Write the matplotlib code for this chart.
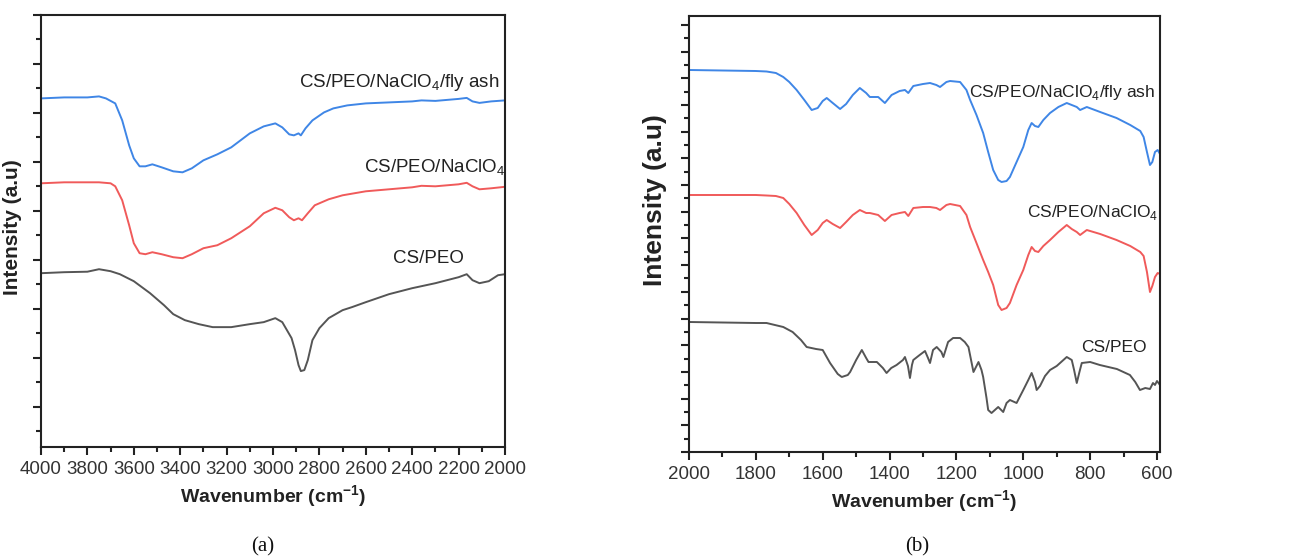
import numpy as np
import matplotlib
matplotlib.use('Agg')
import matplotlib.pyplot as plt
from matplotlib.ticker import MultipleLocator, FixedLocator

plt.rcParams['font.family'] = ['Liberation Sans', 'DejaVu Sans']
plt.rcParams['mathtext.fontset'] = 'custom'
plt.rcParams['mathtext.rm'] = 'Liberation Sans'
plt.rcParams['mathtext.bf'] = 'Liberation Sans:bold'

# ---- panel (a): 4000-2000 cm-1, intensity in arbitrary units ----
a_wn_top = [4000, 3900, 3800, 3750, 3720, 3680, 3650, 3620, 3600, 3575, 3550, 3520, 3480, 3430,
            3390, 3350, 3300, 3240, 3180, 3100, 3040, 2990, 2960, 2930, 2910, 2890, 2880, 2860,
            2830, 2780, 2740, 2680, 2600, 2500, 2400, 2360, 2300, 2200, 2165, 2140, 2110, 2060, 2000]
a_flyash = [349, 350, 350, 351, 349, 344, 327, 302, 289, 281, 281, 283, 280, 276,
            275, 279, 287, 293, 300, 314, 321, 324, 320, 313, 312, 314, 312, 319,
            327, 335, 339, 342, 344, 345, 346, 347, 346.5, 348.5, 349.5, 346, 344.5, 346, 347]

a_wn_mid = [4000, 3900, 3800, 3750, 3700, 3680, 3650, 3620, 3600, 3575, 3550, 3520, 3480, 3430,
            3390, 3350, 3300, 3240, 3180, 3100, 3040, 2990, 2960, 2930, 2910, 2890, 2875, 2850,
            2820, 2760, 2700, 2600, 2500, 2400, 2360, 2300, 2200, 2165, 2140, 2110, 2060, 2000]
a_naclo4 = [264, 265, 265, 265, 264, 261, 247, 222, 204, 194, 193, 195, 193, 190,
            189, 193, 199, 202, 209, 221, 234, 239.5, 237, 230, 227, 229, 227, 234,
            242, 248, 252, 256, 258, 260, 261.5, 261, 263, 264.5, 261, 258, 259, 260.5]

a_wn_low = [4000, 3900, 3800, 3750, 3700, 3660, 3600, 3530, 3470, 3430, 3380, 3320, 3260, 3180,
            3100, 3040, 2990, 2960, 2940, 2920, 2905, 2890, 2880, 2865, 2850, 2830, 2800, 2760,
            2700, 2660, 2600, 2500, 2450, 2400, 2300, 2200, 2165, 2140, 2110, 2070, 2030, 2000]
a_cspeo = [174, 175, 175.5, 178, 176, 173, 166, 154, 142, 133, 127, 123, 120, 120,
           123, 125, 129, 125, 117, 109, 97, 82, 76, 77, 87, 107, 119, 129,
           137, 140, 145, 153, 156, 159, 164, 170, 173, 167, 164, 166, 172, 173]

# ---- panel (b): 2000-600 cm-1 ----
b_wn = [2000, 1900, 1800, 1768, 1740, 1718, 1700, 1678, 1655, 1633, 1615, 1600, 1588, 1570,
        1548, 1530, 1510, 1489, 1470, 1459, 1434, 1414, 1394, 1370, 1354, 1344, 1329, 1300,
        1279, 1260, 1249, 1230, 1219, 1189, 1170, 1159, 1140, 1120, 1105, 1090, 1075, 1065,
        1050, 1040, 1020, 1000, 985, 975, 965, 955, 940, 920, 895, 870, 855, 840, 830, 810,
        770, 721, 680, 650, 640, 630, 621, 614, 606, 598, 591]
b_flyash = [382, 381.5, 381, 380.5, 379, 375, 370, 362, 352, 342, 344, 351, 354, 349,
            343, 348, 357, 364, 359, 355, 355, 349, 357, 361, 362, 359, 366, 368,
            369, 367, 365, 370, 371, 370, 362, 352, 337, 319, 300, 282, 272, 270,
            271, 275, 290, 305, 322, 329, 326, 325, 332, 339, 345, 349, 347, 345, 342, 345,
            340, 334, 327, 321, 315, 300, 287, 290, 300, 302, 298]
b_naclo4 = [257, 257, 257, 256.5, 256, 254, 248, 239, 227, 217, 222, 229, 232, 228,
            224, 230, 237, 242, 239, 239, 237, 231, 237, 239, 240, 236, 244, 245,
            245, 244, 242, 247, 248, 246, 237, 225, 209, 192, 180, 167, 147, 142,
            144, 149, 167, 182, 197, 205, 201, 200, 206, 212, 220, 227, 223, 220, 217, 222,
            218, 212, 206, 200, 196, 180, 160, 166, 175, 179, 178]

b_wn_low = [2000, 1900, 1800, 1768, 1718, 1690, 1665, 1648, 1620, 1600, 1578, 1555, 1543, 1525,
            1518, 1500, 1483, 1470, 1463, 1438, 1420, 1409, 1395, 1379, 1360, 1354, 1345, 1339,
            1333, 1329, 1310, 1294, 1285, 1279, 1270, 1259, 1245, 1239, 1225, 1210, 1189, 1175,
            1164, 1155, 1149, 1140, 1134, 1125, 1120, 1110, 1105, 1095, 1085, 1075, 1060, 1050,
            1040, 1020, 1000, 985, 975, 965, 960, 950, 935, 920, 900, 880, 870, 855, 848, 840,
            832, 825, 800, 771, 720, 681, 665, 651, 635, 621, 612, 606, 600, 591]
b_cspeo = [130, 129.5, 129, 129, 125, 120, 112, 105, 103, 102, 89, 78, 75, 77,
           80, 92, 102, 94, 90, 90, 84, 79, 84, 87, 92, 95, 86, 74,
           87, 92, 97, 101, 94, 89, 102, 105, 100, 95, 110, 114, 114, 110,
           105, 90, 80, 86, 90, 82, 75, 54, 42, 39, 42, 45, 40, 49,
           52, 49, 62, 72, 79, 70, 62, 66, 76, 82, 86, 92, 95, 92, 82, 69,
           80, 89, 90, 87, 83, 77, 70, 62, 64, 63, 69, 67, 71, 67]

names = ['CS/PEO/NaClO$_4$/fly ash', 'CS/PEO/NaClO$_4$', 'CS/PEO']
colors = ['#3f86e6', '#f05a5a', '#555555']

fig = plt.figure(figsize=(12.95, 5.6), dpi=100)
axa = fig.add_axes([41/1295, 113/560, 464/1295, 432/560])
axb = fig.add_axes([689/1295, 108/560, 471/1295, 436/560])

axa.plot(a_wn_top, a_flyash, color=colors[0], lw=1.4)
axa.plot(a_wn_mid, a_naclo4, color=colors[1], lw=1.4)
axa.plot(a_wn_low, a_cspeo, color=colors[2], lw=1.4)
axa.set_xlim(4000, 2000)
axa.set_ylim(0, 432.5)
axa.xaxis.set_major_locator(MultipleLocator(200))
axa.xaxis.set_minor_locator(MultipleLocator(100))
axa.yaxis.set_major_locator(FixedLocator(np.arange(432.5, 0, -49)))
axa.yaxis.set_minor_locator(FixedLocator(np.arange(408, 0, -49)))
axa.text(2022, 365, names[0], ha='right', va='center', fontsize=13.5, color='#222222')
axa.text(1998, 279, names[1], ha='right', va='center', fontsize=13.5, color='#222222')
axa.text(2332, 189, names[2], ha='center', va='center', fontsize=13.5, color='#222222')

axb.plot(b_wn, b_flyash, color=colors[0], lw=1.4)
axb.plot(b_wn, b_naclo4, color=colors[1], lw=1.4)
axb.plot(b_wn_low, b_cspeo, color=colors[2], lw=1.4)
axb.set_xlim(2000, 591)
axb.set_ylim(0, 436)
axb.xaxis.set_major_locator(MultipleLocator(200))
axb.xaxis.set_minor_locator(MultipleLocator(100))
axb.yaxis.set_major_locator(MultipleLocator(26.7))
axb.yaxis.set_minor_locator(MultipleLocator(13.35))
axb.text(606, 360, names[0], ha='right', va='center', fontsize=12.5, color='#222222')
axb.text(597, 240, names[1], ha='right', va='center', fontsize=12.5, color='#222222')
axb.text(729, 104, names[2], ha='center', va='center', fontsize=12.5, color='#222222')

for ax in (axa, axb):
    for sp in ax.spines.values():
        sp.set_linewidth(1.5)
        sp.set_color('#222222')
    ax.tick_params(which='major', direction='out', length=6, width=1.5, color='#222222',
                   labelsize=13.5, labelcolor='#333333', pad=4)
    ax.tick_params(which='minor', direction='out', length=3.5, width=1.5, color='#222222')
    ax.set_yticklabels([])
    ax.tick_params(axis='y', which='both', labelleft=False)
    ax.set_xlabel(r'Wavenumber (cm$^{\mathbf{-1}}$)', fontsize=14, fontweight='bold',
                  color='#222222', labelpad=4)

axa.set_ylabel('Intensity (a.u)', fontsize=15, fontweight='bold', color='#222222')
axa.yaxis.set_label_coords(-0.041, 0.51)
axb.set_ylabel('Intensity (a.u)', fontsize=19, fontweight='bold', color='#222222')
axb.yaxis.set_label_coords(-0.047, 0.578)

fig.text(263/1295, 1 - 547/560, '(a)', ha='center', va='center', fontsize=15,
         family='Liberation Serif', color='#111111')
fig.text(917/1295, 1 - 547/560, '(b)', ha='center', va='center', fontsize=15,
         family='Liberation Serif', color='#111111')

fig.savefig('out.png', dpi=100)
